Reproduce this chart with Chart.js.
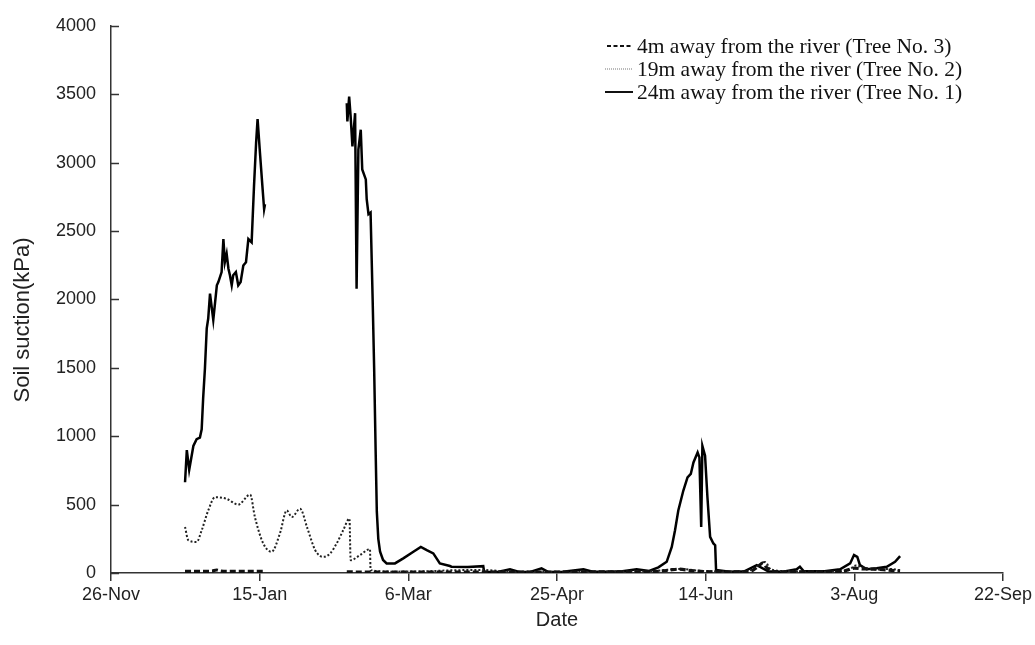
<!DOCTYPE html>
<html>
<head>
<meta charset="utf-8">
<script src="https://cdn.jsdelivr.net/npm/chart.js@4.4.0/dist/chart.umd.min.js"></script>
<style>
  html, body { margin: 0; padding: 0; background: #fff; }
</style>
</head>
<body>
<canvas id="suctionChart" width="1035" height="645"></canvas>
<script>
// x = days since 26-Nov, y = soil suction in kPa (null = no reading)
var tickDates = ['26-Nov', '15-Jan', '6-Mar', '25-Apr', '14-Jun', '3-Aug', '22-Sep'];

var tree3Days = [24.9, 28, 31, 34, 35.5, 37, 40, 44, 48, 51.8, 65,
  79.3, 85, 90, 100, 110, 120, 130, 140, 150, 160, 170, 180, 185, 188, 191, 195, 200, 205,
  210, 215, 217.5, 219.3, 220.5, 223, 230, 240, 246, 250, 253, 257, 261, 265.4];
var tree3Kpa = [12, 12, 12, 14, 22, 14, 12, 12, 12, 12, null,
  8, 7, 7, 7, 7, 7, 6, 7, 7, 8, 8, 10, 14, 22, 28, 18, 10, 8,
  8, 12, 45, 75, 40, 10, 9, 9, 12, 35, 30, 28, 22, 15];

var tree2Days = [24.9, 26.0, 28.8, 30.5, 32.7, 35.0, 38.9, 42.8, 46.8, 48.4, 51.2, 54.0, 56.8,
  59.1, 60.8, 63.6, 66, 68.6, 70.3, 71.5, 73.7, 75.9, 78.1, 80.2, 80.6, 83.7, 87.1, 87.3,
  95, 105, 115, 125, 135, 145, 155, 165, 175, 182, 188, 192, 197, 203, 210, 215, 218.5,
  220, 222, 230, 240, 248, 250.5, 253, 258, 262, 265.4];
var tree2Kpa = [336, 240, 227, 312, 457, 554, 542, 500, 573, 409, 216, 155, 288,
  457, 409, 470, 330, 170, 125, 118, 143, 216, 312, 397, 94, 130, 174, 22,
  10, 12, 20, 22, 10, 10, 10, 10, 12, 14, 25, 30, 18, 12, 10, 20, 65,
  80, 25, 12, 10, 20, 55, 40, 25, 30, 20];

var tree1Days = [24.9, 25.5, 26.3, 27.7, 28.8, 29.9, 30.5, 31.0, 31.6, 32.2, 32.7, 33.3, 34.4,
  35.6, 36.1, 37.2, 37.8, 38.3, 38.9, 39.5, 40.0, 40.6, 41.1, 42.0, 42.8, 43.6, 44.5, 45.4,
  46.2, 47.3, 48.1, 48.8, 49.3, 50.1, 51.0, 51.5, 51.8, 65,
  79.3, 79.5, 80.1, 80.6, 81.2, 82.1, 82.6, 83.2, 84.0, 84.5, 85.7, 86.0, 86.6, 87.3, 88.0,
  88.5, 89.0, 89.4, 89.9, 90.5, 91.5, 92.7, 95.5, 98.3, 101.7, 104.2, 106.2, 108.4, 110.6,
  114.0, 114.5, 120, 125.2, 125.5, 130, 134.2, 137, 141, 144.8, 147, 152, 158.9, 162, 168,
  172, 176.8, 181, 184.1, 186.9, 188.6, 189.7, 190.8, 192.5, 193.9, 195.0, 195.9, 197.3,
  197.9, 198.5, 198.9, 199.8, 200.6, 201.5, 202.6, 203.2, 203.5, 208, 213, 217.2, 221, 226,
  230.6, 231.7, 233, 240, 245.2, 248.6, 249.9, 251.0, 251.9, 254.2, 257.5, 260.9, 263.7, 265.4];
var tree1Kpa = [663, 898, 753, 929, 978, 990, 1050, 1280, 1498, 1788, 1860, 2042, 1850,
  2103, 2127, 2200, 2441, 2272, 2333, 2224, 2176, 2103, 2176, 2200, 2103, 2127, 2248, 2272,
  2441, 2417, 2829, 3143, 3318, 3071, 2804, 2659, 2695, null,
  3434, 3301, 3482, 3337, 3119, 3361, 2078, 3095, 3240, 2950, 2877, 2732, 2623, 2635, 2000,
  1500, 900, 450, 250, 155, 95, 70, 70, 107, 155, 191, 167, 143, 70,
  51, 46, 44, 50, 8, 8, 27, 10, 8, 34, 8, 10, 27, 10, 10,
  12, 27, 15, 41, 82, 191, 312, 457, 603, 699, 724, 808, 881,
  845, 336, 929, 857, 554, 264, 216, 203, 22, 10, 12, 58, 12, 10,
  27, 46, 12, 12, 27, 70, 131, 118, 58, 27, 34, 46, 82, 123];

var seriesLabels = [
  '4m away from the river (Tree No. 3)',
  '19m away from the river (Tree No. 2)',
  '24m away from the river (Tree No. 1)'
];
var yTitle = 'Soil suction(kPa)';

function toPoints(days, vals) {
  return days.map(function (d, i) { return { x: d, y: vals[i] }; });
}

// little line samples + serif labels, top right inside the plot
var sideLegend = {
  id: 'sideLegend',
  afterDraw: function (chart) {
    var ctx = chart.ctx;
    var x0 = 605, rows = [46, 69, 92];
    ctx.save();
    ctx.font = '21.5px "Liberation Serif", "Times New Roman", serif';
    ctx.fillStyle = '#111';
    ctx.textBaseline = 'middle';
    chart.data.datasets.forEach(function (ds, i) {
      var y = rows[i];
      ctx.beginPath();
      if (i === 0) { ctx.setLineDash([4, 2.5]); ctx.lineWidth = 1.8; ctx.strokeStyle = '#111'; }
      else if (i === 1) { ctx.setLineDash([1, 1]); ctx.lineWidth = 1; ctx.strokeStyle = '#777'; }
      else { ctx.setLineDash([]); ctx.lineWidth = 2; ctx.strokeStyle = '#111'; }
      ctx.moveTo(x0 + (i === 0 ? 2 : 0), y);
      ctx.lineTo(x0 + 28, y);
      ctx.stroke();
      ctx.setLineDash([]);
      ctx.fillText(ds.label, x0 + 32, y + 1);
    });
    ctx.restore();
  }
};

// y ticks point into the plot, y title sits a bit below the plot middle
var innerTicks = {
  id: 'innerTicks',
  afterDraw: function (chart) {
    var y = chart.scales.y, ctx = chart.ctx, left = chart.chartArea.left;
    ctx.save();
    ctx.strokeStyle = '#333';
    ctx.lineWidth = 1.5;
    y.ticks.forEach(function (t) {
      var py = Math.round(y.getPixelForValue(t.value)) + 0.5;
      ctx.beginPath();
      ctx.moveTo(left, py);
      ctx.lineTo(left + 8, py);
      ctx.stroke();
    });
    ctx.translate(23, 320);
    ctx.rotate(-Math.PI / 2);
    ctx.font = '22px "Liberation Sans", Arial, sans-serif';
    ctx.fillStyle = '#222';
    ctx.textAlign = 'center';
    ctx.textBaseline = 'middle';
    ctx.fillText(yTitle, 0, 0);
    ctx.restore();
  }
};

var axisFont = { family: '"Liberation Sans", Arial, sans-serif', size: 18 };
var titleFont = { family: '"Liberation Sans", Arial, sans-serif', size: 20 };

var config = {
  type: 'line',
  data: {
    datasets: [
      {
        label: seriesLabels[0],
        data: toPoints(tree3Days, tree3Kpa),
        borderColor: '#111',
        borderWidth: 3.2,
        borderDash: [6, 3],
        cubicInterpolationMode: 'monotone',
        pointRadius: 0,
        spanGaps: false
      },
      {
        label: seriesLabels[1],
        data: toPoints(tree2Days, tree2Kpa),
        borderColor: '#222',
        borderWidth: 2,
        borderDash: [2, 2],
        cubicInterpolationMode: 'monotone',
        pointRadius: 0,
        spanGaps: false
      },
      {
        label: seriesLabels[2],
        data: toPoints(tree1Days, tree1Kpa),
        borderColor: '#000',
        borderWidth: 2.5,
        tension: 0,
        pointRadius: 0,
        spanGaps: false
      }
    ]
  },
  options: {
    responsive: false,
    animation: false,
    layout: { padding: { top: 22, right: 32, left: 0, bottom: 0 } },
    plugins: {
      legend: { display: false },
      tooltip: { enabled: false }
    },
    scales: {
      x: {
        type: 'linear',
        min: 0,
        max: 300,
        afterFit: function (s) { s.height = 72; },
        ticks: {
          stepSize: 50,
          color: '#222',
          font: axisFont,
          padding: 3,
          maxRotation: 0,
          callback: function (v) { return tickDates[v / 50] || ''; }
        },
        grid: { drawOnChartArea: false, drawTicks: true, tickLength: 8, color: '#333', lineWidth: 1.5 },
        border: { color: '#333', width: 1.5 },
        title: { display: true, text: 'Date', color: '#222', font: titleFont, padding: { top: 0, bottom: 13 } }
      },
      y: {
        min: 0,
        max: 4000,
        afterFit: function (s) { s.width = 111; },
        ticks: {
          stepSize: 500,
          color: '#222',
          font: axisFont,
          padding: 15,
          callback: function (v) { return String(v); }
        },
        grid: { display: false, drawTicks: false },
        border: { color: '#333', width: 1.5 }
      }
    }
  },
  plugins: [innerTicks, sideLegend]
};

var myChart = new Chart(document.getElementById('suctionChart'), config);
</script>
</body>
</html>
